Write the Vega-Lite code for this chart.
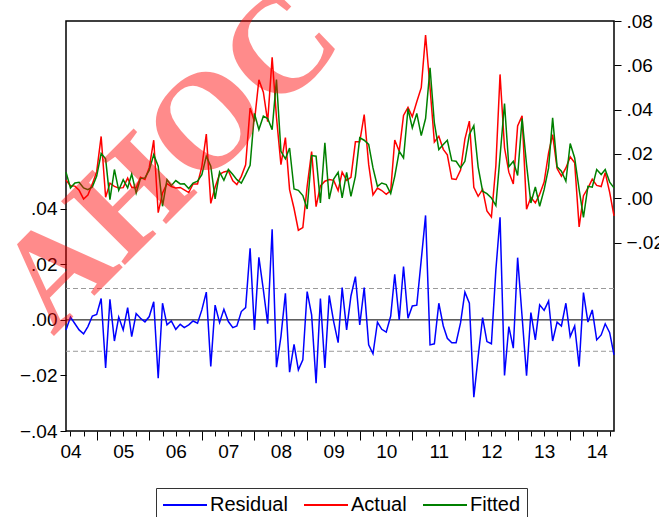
{
  "$schema": "https://vega.github.io/schema/vega-lite/v6.json",
  "width": 548,
  "height": 410,
  "autosize": {"type": "none"},
  "padding": {"left": 66, "top": 21, "right": 45, "bottom": 86},
  "background": "white",
  "config": {
    "font": "Liberation Sans",
    "view": {"stroke": "black", "strokeWidth": 1.5},
    "axis": {
      "domain": false,
      "grid": false,
      "tickColor": "black",
      "tickWidth": 1,
      "labelColor": "black",
      "labelFont": "Liberation Sans",
      "labelFontSize": 19,
      "title": null
    },
    "legend": {
      "orient": "none",
      "legendX": 90,
      "legendY": 467,
      "direction": "horizontal",
      "columns": 3,
      "symbolType": "M-1,0H3.4",
      "symbolSize": 400,
      "symbolStrokeWidth": 2,
      "labelFont": "Liberation Sans",
      "labelFontSize": 20,
      "labelColor": "black",
      "labelOffset": 26,
      "columnPadding": 12,
      "padding": 6,
      "strokeColor": "#333333",
      "fillColor": "white"
    }
  },
  "datasets": {
    "monthly": [
      {"date": "2003-12-01", "Residual": -0.0036, "Actual": 0.0082, "Fitted": 0.0118},
      {"date": "2004-01-01", "Residual": 0.0010, "Actual": 0.0057, "Fitted": 0.0047},
      {"date": "2004-02-01", "Residual": -0.0014, "Actual": 0.0055, "Fitted": 0.0069},
      {"date": "2004-03-01", "Residual": -0.0036, "Actual": 0.0036, "Fitted": 0.0072},
      {"date": "2004-04-01", "Residual": -0.0050, "Actual": -0.0003, "Fitted": 0.0047},
      {"date": "2004-05-01", "Residual": -0.0024, "Actual": 0.0015, "Fitted": 0.0039},
      {"date": "2004-06-01", "Residual": 0.0014, "Actual": 0.0065, "Fitted": 0.0051},
      {"date": "2004-07-01", "Residual": 0.0020, "Actual": 0.0120, "Fitted": 0.0100},
      {"date": "2004-08-01", "Residual": 0.0077, "Actual": 0.0279, "Fitted": 0.0202},
      {"date": "2004-09-01", "Residual": -0.0173, "Actual": 0.0005, "Fitted": 0.0178},
      {"date": "2004-10-01", "Residual": 0.0074, "Actual": 0.0068, "Fitted": -0.0006},
      {"date": "2004-11-01", "Residual": -0.0076, "Actual": 0.0054, "Fitted": 0.0130},
      {"date": "2004-12-01", "Residual": 0.0010, "Actual": 0.0046, "Fitted": 0.0036},
      {"date": "2005-01-01", "Residual": -0.0036, "Actual": 0.0048, "Fitted": 0.0084},
      {"date": "2005-02-01", "Residual": 0.0044, "Actual": 0.0091, "Fitted": 0.0047},
      {"date": "2005-03-01", "Residual": -0.0060, "Actual": 0.0050, "Fitted": 0.0110},
      {"date": "2005-04-01", "Residual": 0.0023, "Actual": 0.0047, "Fitted": 0.0024},
      {"date": "2005-05-01", "Residual": 0.0006, "Actual": 0.0095, "Fitted": 0.0089},
      {"date": "2005-06-01", "Residual": -0.0007, "Actual": 0.0085, "Fitted": 0.0092},
      {"date": "2005-07-01", "Residual": 0.0012, "Actual": 0.0139, "Fitted": 0.0127},
      {"date": "2005-08-01", "Residual": 0.0065, "Actual": 0.0262, "Fitted": 0.0197},
      {"date": "2005-09-01", "Residual": -0.0210, "Actual": -0.0065, "Fitted": 0.0145},
      {"date": "2005-10-01", "Residual": 0.0060, "Actual": 0.0024, "Fitted": -0.0036},
      {"date": "2005-11-01", "Residual": -0.0018, "Actual": 0.0066, "Fitted": 0.0084},
      {"date": "2005-12-01", "Residual": -0.0004, "Actual": 0.0053, "Fitted": 0.0057},
      {"date": "2006-01-01", "Residual": -0.0034, "Actual": 0.0046, "Fitted": 0.0080},
      {"date": "2006-02-01", "Residual": -0.0016, "Actual": 0.0049, "Fitted": 0.0065},
      {"date": "2006-03-01", "Residual": -0.0028, "Actual": 0.0038, "Fitted": 0.0066},
      {"date": "2006-04-01", "Residual": -0.0018, "Actual": 0.0026, "Fitted": 0.0044},
      {"date": "2006-05-01", "Residual": -0.0004, "Actual": 0.0065, "Fitted": 0.0069},
      {"date": "2006-06-01", "Residual": -0.0012, "Actual": 0.0065, "Fitted": 0.0077},
      {"date": "2006-07-01", "Residual": 0.0036, "Actual": 0.0143, "Fitted": 0.0107},
      {"date": "2006-08-01", "Residual": 0.0100, "Actual": 0.0290, "Fitted": 0.0190},
      {"date": "2006-09-01", "Residual": -0.0168, "Actual": -0.0023, "Fitted": 0.0145},
      {"date": "2006-10-01", "Residual": 0.0053, "Actual": 0.0050, "Fitted": -0.0003},
      {"date": "2006-11-01", "Residual": -0.0010, "Actual": 0.0108, "Fitted": 0.0118},
      {"date": "2006-12-01", "Residual": 0.0038, "Actual": 0.0119, "Fitted": 0.0081},
      {"date": "2007-01-01", "Residual": -0.0006, "Actual": 0.0124, "Fitted": 0.0130},
      {"date": "2007-02-01", "Residual": -0.0028, "Actual": 0.0079, "Fitted": 0.0107},
      {"date": "2007-03-01", "Residual": -0.0022, "Actual": 0.0062, "Fitted": 0.0084},
      {"date": "2007-04-01", "Residual": 0.0030, "Actual": 0.0099, "Fitted": 0.0069},
      {"date": "2007-05-01", "Residual": 0.0044, "Actual": 0.0151, "Fitted": 0.0107},
      {"date": "2007-06-01", "Residual": 0.0258, "Actual": 0.0407, "Fitted": 0.0149},
      {"date": "2007-07-01", "Residual": -0.0036, "Actual": 0.0347, "Fitted": 0.0383},
      {"date": "2007-08-01", "Residual": 0.0225, "Actual": 0.0535, "Fitted": 0.0310},
      {"date": "2007-09-01", "Residual": 0.0108, "Actual": 0.0479, "Fitted": 0.0371},
      {"date": "2007-10-01", "Residual": -0.0014, "Actual": 0.0346, "Fitted": 0.0360},
      {"date": "2007-11-01", "Residual": 0.0326, "Actual": 0.0636, "Fitted": 0.0310},
      {"date": "2007-12-01", "Residual": -0.0170, "Actual": 0.0366, "Fitted": 0.0536},
      {"date": "2008-01-01", "Residual": -0.0060, "Actual": 0.0152, "Fitted": 0.0212},
      {"date": "2008-02-01", "Residual": 0.0096, "Actual": 0.0274, "Fitted": 0.0178},
      {"date": "2008-03-01", "Residual": -0.0188, "Actual": 0.0039, "Fitted": 0.0227},
      {"date": "2008-04-01", "Residual": -0.0088, "Actual": -0.0046, "Fitted": 0.0042},
      {"date": "2008-05-01", "Residual": -0.0180, "Actual": -0.0144, "Fitted": 0.0036},
      {"date": "2008-06-01", "Residual": -0.0144, "Actual": -0.0132, "Fitted": 0.0012},
      {"date": "2008-07-01", "Residual": 0.0102, "Actual": 0.0054, "Fitted": -0.0048},
      {"date": "2008-08-01", "Residual": 0.0018, "Actual": 0.0211, "Fitted": 0.0193},
      {"date": "2008-09-01", "Residual": -0.0228, "Actual": -0.0038, "Fitted": 0.0190},
      {"date": "2008-10-01", "Residual": 0.0077, "Actual": 0.0056, "Fitted": -0.0021},
      {"date": "2008-11-01", "Residual": -0.0173, "Actual": 0.0077, "Fitted": 0.0250},
      {"date": "2008-12-01", "Residual": 0.0088, "Actual": 0.0085, "Fitted": -0.0003},
      {"date": "2009-01-01", "Residual": -0.0006, "Actual": 0.0081, "Fitted": 0.0087},
      {"date": "2009-02-01", "Residual": -0.0082, "Actual": 0.0035, "Fitted": 0.0117},
      {"date": "2009-03-01", "Residual": 0.0116, "Actual": 0.0118, "Fitted": 0.0002},
      {"date": "2009-04-01", "Residual": -0.0036, "Actual": 0.0081, "Fitted": 0.0117},
      {"date": "2009-05-01", "Residual": 0.0086, "Actual": 0.0095, "Fitted": 0.0009},
      {"date": "2009-06-01", "Residual": 0.0156, "Actual": 0.0255, "Fitted": 0.0099},
      {"date": "2009-07-01", "Residual": -0.0018, "Actual": 0.0255, "Fitted": 0.0273},
      {"date": "2009-08-01", "Residual": 0.0116, "Actual": 0.0378, "Fitted": 0.0262},
      {"date": "2009-09-01", "Residual": -0.0090, "Actual": 0.0153, "Fitted": 0.0243},
      {"date": "2009-10-01", "Residual": -0.0122, "Actual": 0.0015, "Fitted": 0.0137},
      {"date": "2009-11-01", "Residual": -0.0008, "Actual": 0.0046, "Fitted": 0.0054},
      {"date": "2009-12-01", "Residual": -0.0034, "Actual": 0.0035, "Fitted": 0.0069},
      {"date": "2010-01-01", "Residual": -0.0044, "Actual": 0.0018, "Fitted": 0.0062},
      {"date": "2010-02-01", "Residual": 0.0014, "Actual": 0.0035, "Fitted": 0.0021},
      {"date": "2010-03-01", "Residual": 0.0164, "Actual": 0.0263, "Fitted": 0.0099},
      {"date": "2010-04-01", "Residual": 0.0000, "Actual": 0.0212, "Fitted": 0.0212},
      {"date": "2010-05-01", "Residual": 0.0192, "Actual": 0.0374, "Fitted": 0.0182},
      {"date": "2010-06-01", "Residual": 0.0006, "Actual": 0.0410, "Fitted": 0.0404},
      {"date": "2010-07-01", "Residual": 0.0050, "Actual": 0.0368, "Fitted": 0.0318},
      {"date": "2010-08-01", "Residual": 0.0053, "Actual": 0.0436, "Fitted": 0.0383},
      {"date": "2010-09-01", "Residual": 0.0216, "Actual": 0.0499, "Fitted": 0.0283},
      {"date": "2010-10-01", "Residual": 0.0376, "Actual": 0.0736, "Fitted": 0.0360},
      {"date": "2010-11-01", "Residual": -0.0090, "Actual": 0.0499, "Fitted": 0.0589},
      {"date": "2010-12-01", "Residual": -0.0086, "Actual": 0.0254, "Fitted": 0.0340},
      {"date": "2011-01-01", "Residual": 0.0060, "Actual": 0.0280, "Fitted": 0.0220},
      {"date": "2011-02-01", "Residual": -0.0022, "Actual": 0.0221, "Fitted": 0.0243},
      {"date": "2011-03-01", "Residual": -0.0066, "Actual": 0.0196, "Fitted": 0.0262},
      {"date": "2011-04-01", "Residual": -0.0082, "Actual": 0.0088, "Fitted": 0.0170},
      {"date": "2011-05-01", "Residual": -0.0082, "Actual": 0.0085, "Fitted": 0.0167},
      {"date": "2011-06-01", "Residual": -0.0010, "Actual": 0.0127, "Fitted": 0.0137},
      {"date": "2011-07-01", "Residual": 0.0100, "Actual": 0.0267, "Fitted": 0.0167},
      {"date": "2011-08-01", "Residual": 0.0060, "Actual": 0.0348, "Fitted": 0.0288},
      {"date": "2011-09-01", "Residual": -0.0278, "Actual": 0.0050, "Fitted": 0.0328},
      {"date": "2011-10-01", "Residual": -0.0132, "Actual": 0.0009, "Fitted": 0.0141},
      {"date": "2011-11-01", "Residual": 0.0008, "Actual": 0.0040, "Fitted": 0.0032},
      {"date": "2011-12-01", "Residual": -0.0078, "Actual": -0.0057, "Fitted": 0.0021},
      {"date": "2012-01-01", "Residual": -0.0086, "Actual": -0.0084, "Fitted": 0.0002},
      {"date": "2012-02-01", "Residual": 0.0180, "Actual": 0.0147, "Fitted": -0.0033},
      {"date": "2012-03-01", "Residual": 0.0369, "Actual": 0.0559, "Fitted": 0.0190},
      {"date": "2012-04-01", "Residual": -0.0200, "Actual": 0.0228, "Fitted": 0.0428},
      {"date": "2012-05-01", "Residual": -0.0024, "Actual": 0.0118, "Fitted": 0.0142},
      {"date": "2012-06-01", "Residual": -0.0102, "Actual": 0.0065, "Fitted": 0.0167},
      {"date": "2012-07-01", "Residual": 0.0224, "Actual": 0.0327, "Fitted": 0.0103},
      {"date": "2012-08-01", "Residual": 0.0012, "Actual": 0.0372, "Fitted": 0.0360},
      {"date": "2012-09-01", "Residual": -0.0201, "Actual": -0.0049, "Fitted": 0.0152},
      {"date": "2012-10-01", "Residual": 0.0026, "Actual": 0.0005, "Fitted": -0.0021},
      {"date": "2012-11-01", "Residual": -0.0072, "Actual": -0.0021, "Fitted": 0.0051},
      {"date": "2012-12-01", "Residual": 0.0054, "Actual": 0.0018, "Fitted": -0.0036},
      {"date": "2013-01-01", "Residual": 0.0034, "Actual": 0.0073, "Fitted": 0.0039},
      {"date": "2013-02-01", "Residual": 0.0068, "Actual": 0.0205, "Fitted": 0.0137},
      {"date": "2013-03-01", "Residual": -0.0076, "Actual": 0.0287, "Fitted": 0.0363},
      {"date": "2013-04-01", "Residual": -0.0008, "Actual": 0.0134, "Fitted": 0.0142},
      {"date": "2013-05-01", "Residual": -0.0022, "Actual": 0.0100, "Fitted": 0.0122},
      {"date": "2013-06-01", "Residual": 0.0060, "Actual": 0.0137, "Fitted": 0.0077},
      {"date": "2013-07-01", "Residual": -0.0060, "Actual": 0.0187, "Fitted": 0.0247},
      {"date": "2013-08-01", "Residual": -0.0022, "Actual": 0.0160, "Fitted": 0.0182},
      {"date": "2013-09-01", "Residual": -0.0168, "Actual": -0.0129, "Fitted": 0.0039},
      {"date": "2013-10-01", "Residual": 0.0098, "Actual": 0.0012, "Fitted": -0.0086},
      {"date": "2013-11-01", "Residual": -0.0008, "Actual": 0.0046, "Fitted": 0.0054},
      {"date": "2013-12-01", "Residual": 0.0036, "Actual": 0.0086, "Fitted": 0.0050},
      {"date": "2014-01-01", "Residual": -0.0072, "Actual": 0.0058, "Fitted": 0.0130},
      {"date": "2014-02-01", "Residual": -0.0054, "Actual": 0.0053, "Fitted": 0.0107},
      {"date": "2014-03-01", "Residual": -0.0014, "Actual": 0.0116, "Fitted": 0.0130},
      {"date": "2014-04-01", "Residual": -0.0046, "Actual": 0.0027, "Fitted": 0.0073},
      {"date": "2014-05-01", "Residual": -0.0126, "Actual": -0.0079, "Fitted": 0.0047}
    ],
    "bands": [
      {"line": "zero", "level": 0},
      {"line": "upper", "level": 0.0113},
      {"line": "lower", "level": -0.0113}
    ],
    "stamp": [
      {"label": "AHOC"}
    ]
  },
  "resolve": {"scale": {"y": "independent"}},
  "layer": [
    {
      "layer": [
        {
          "data": {"name": "bands"},
          "transform": [{"filter": "datum.line !== 'zero'"}],
          "mark": {"type": "rule", "color": "#9a9a9a", "strokeWidth": 1, "strokeDash": [5, 3]},
          "encoding": {"y": {"field": "level", "type": "quantitative"}}
        },
        {
          "data": {"name": "bands"},
          "transform": [{"filter": "datum.line === 'zero'"}],
          "mark": {"type": "rule", "color": "black", "strokeWidth": 1},
          "encoding": {"y": {"field": "level", "type": "quantitative"}}
        },
        {
          "data": {"name": "monthly"},
          "mark": {"type": "line", "strokeWidth": 1.5},
          "encoding": {
            "x": {
              "field": "date",
              "type": "temporal",
              "scale": {
                "type": "utc",
                "nice": false,
                "domain": [
                  {"year": 2003, "month": 12, "date": 1, "utc": true},
                  {"year": 2014, "month": 5, "date": 1, "utc": true}
                ]
              },
              "axis": {
                "orient": "bottom",
                "tickCount": {"interval": "month", "step": 3},
                "tickSize": {"condition": {"test": "utcmonth(datum.value) === 6", "value": 9}, "value": 5},
                "labelExpr": "utcmonth(datum.value) === 0 ? utcFormat(datum.value, '%y') : ''",
                "labelOverlap": false,
                "labelFlush": false,
                "labelPadding": 6,
                "labelAlign": "center"
              }
            },
            "y": {
              "field": "Residual",
              "type": "quantitative",
              "scale": {"domain": [-0.04, 0.1076], "nice": false, "zero": false},
              "axis": {
                "orient": "left",
                "values": [-0.04, -0.02, 0, 0.02, 0.04],
                "tickSize": 6,
                "labelPadding": 3,
                "labelExpr": "replace(format(datum.value, '.2f'), '0.', '.')"
              }
            },
            "color": {
              "datum": "Residual",
              "type": "nominal",
              "title": null,
              "scale": {
                "domain": ["Residual", "Actual", "Fitted"],
                "range": ["#0000FF", "#FF0000", "#008000"]
              }
            }
          }
        }
      ]
    },
    {
      "data": {"name": "monthly"},
      "transform": [{"fold": ["Actual", "Fitted"], "as": ["series", "value"]}],
      "mark": {"type": "line", "strokeWidth": 1.5},
      "encoding": {
        "x": {"field": "date", "type": "temporal"},
        "y": {
          "field": "value",
          "type": "quantitative",
          "scale": {"domain": [-0.105, 0.08], "nice": false, "zero": false},
          "axis": {
            "orient": "right",
            "values": [-0.02, 0, 0.02, 0.04, 0.06, 0.08],
            "tickSize": 7,
            "labelPadding": 5,
            "labelExpr": "replace(format(datum.value, '.2f'), '0.', '.')"
          }
        },
        "color": {"field": "series", "type": "nominal", "title": null},
        "detail": {"field": "series"}
      }
    },
    {
      "data": {"name": "stamp"},
      "mark": {
        "type": "text",
        "font": "Liberation Serif",
        "fontSize": 138,
        "fontWeight": "bold",
        "align": "left",
        "baseline": "alphabetic",
        "angle": -45,
        "color": "#FF0000",
        "opacity": 0.45
      },
      "encoding": {
        "x": {"datum": {"year": 2003, "month": 9, "date": 1, "utc": true}, "type": "temporal"},
        "y": {
          "datum": -0.0062,
          "type": "quantitative",
          "scale": {"domain": [-0.04, 0.1076], "nice": false, "zero": false},
          "axis": null
        },
        "text": {"field": "label"}
      }
    }
  ]
}
